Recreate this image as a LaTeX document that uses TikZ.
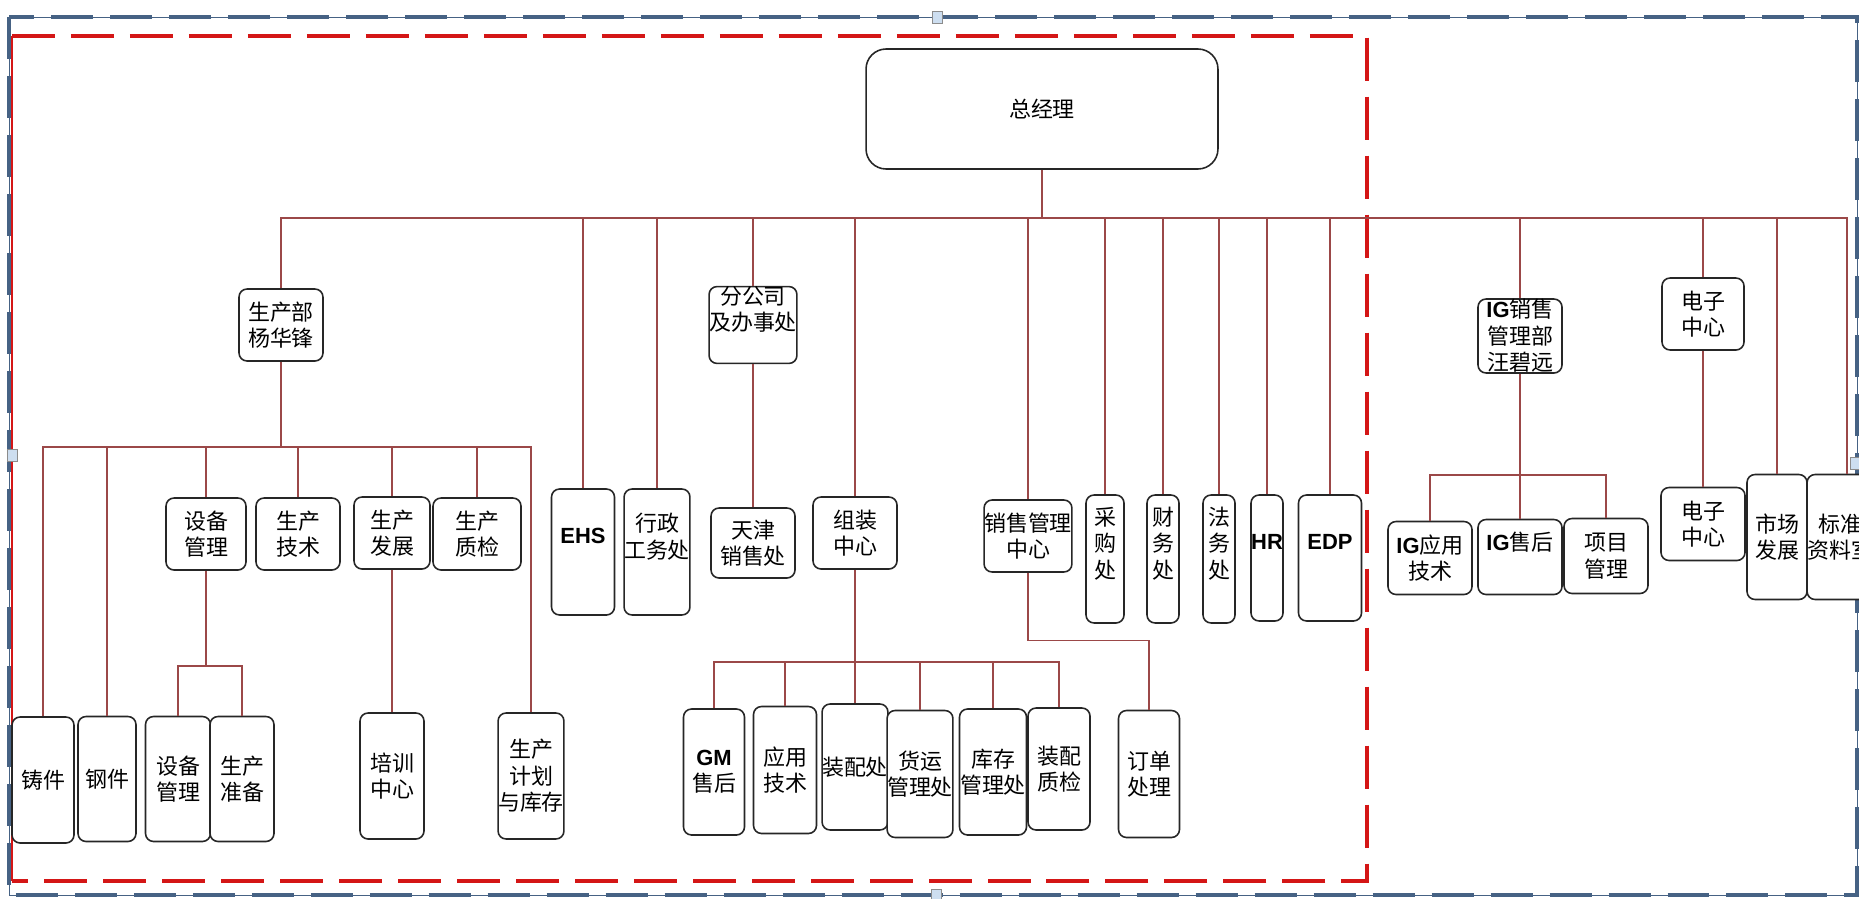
\documentclass[tikz,border=0pt]{standalone}
\usepackage{fontspec}
\setmainfont{Noto Sans CJK SC}
\newfontfamily\lbffont{Liberation Sans}
\newcommand{\lbf}[1]{{\lbffont\bfseries #1}}
\usetikzlibrary{positioning, calc}
\definecolor{linkred}{RGB}{155,72,72}
\definecolor{canvasblue}{RGB}{70,98,132}
\definecolor{markred}{RGB}{212,22,22}
\definecolor{handlefill}{RGB}{205,222,240}

\begin{document}
\begin{tikzpicture}[
                x=0.02cm, y=-0.02cm,
                font=\fontsize{12.5}{15}\selectfont,
                unit/.style={draw=black!85, line width=0.9pt, rounded corners=0.16cm, fill=white, inner sep=0pt, align=center},
                mid/.style={unit, minimum width=1.68cm, minimum height=1.44cm},
                tall/.style={unit, minimum width=1.26cm, minimum height=2.52cm},
                slim/.style={unit, minimum width=0.64cm, minimum height=2.56cm},
                hi/.style={text depth=0.65cm},
                link/.style={draw=linkred, line width=0.6pt},
                canvas/.style={canvasblue, line width=2.4pt, dash pattern=on 0.84cm off 0.34cm},
                redframe/.style={markred, line width=2.8pt, dash pattern=on 0.86cm off 0.32cm},
                handle/.style={draw=black!45, fill=handlefill, line width=0.4pt}
            ]
                \useasboundingbox (0,0) rectangle (1859,899);
                \clip (0,0) rectangle (1859,899);

                \draw[canvasblue, line width=0.5pt] (9,17) rectangle (1857,895);
                \draw[canvas] (9,17) rectangle (1857,895);
                \draw[redframe] (12,36) -- (1367,36) -- (1367,881) -- (12,881);
                \draw[markred, line width=1pt] (12,36) -- (12,881);
                \foreach \hx/\hy in {937/17, 936/895, 12/455, 1855/463}
                    \draw[handle] (\hx-5,\hy-6) rectangle (\hx+5,\hy+6);

                \node[unit, minimum width=7.04cm, minimum height=2.4cm, rounded corners=0.4cm] (gm) at (1042,109) {总经理};

                \node[mid] (scb) at (281,325) {生产部\\杨华锋};
                \node[mid, hi] (fgs) at (753,325) {分公司\\及办事处};
                \node[mid, minimum height=1.48cm] (igxs) at (1520,336) {\lbf{IG}销售\\管理部\\汪碧远};
                \node[mid, minimum width=1.64cm] (dz1) at (1703,314) {电子\\中心};

                \node[mid, minimum width=1.6cm] (sbgl1) at (206,534) {设备\\管理};
                \node[mid] (scjs) at (298,534) {生产\\技术};
                \node[mid, minimum width=1.52cm] (scfz) at (392,533) {生产\\发展};
                \node[mid, minimum width=1.76cm] (sczj) at (477,534) {生产\\质检};
                \node[tall, hi] (ehs) at (583,552) {\lbf{EHS}};
                \node[tall, hi, minimum width=1.24cm] (xz) at (657,552) {行政\\工务处};
                \node[mid, minimum height=1.4cm] (tj) at (753,543) {天津\\销售处};
                \node[mid] (zz) at (855,533) {组装\\中心};
                \node[mid, minimum width=1.72cm] (xsgl) at (1028,536) {销售管理\\中心};
                \node[slim, hi, minimum width=0.76cm] (cg) at (1105,559) {采\\购\\处};
                \node[slim, hi] (cw) at (1163,559) {财\\务\\处};
                \node[slim, hi] (fw) at (1219,559) {法\\务\\处};
                \node[slim, hi, minimum height=2.52cm] (hr) at (1267,558) {\lbf{HR}};
                \node[tall, hi] (edp) at (1330,558) {\lbf{EDP}};

                \node[mid, minimum height=1.46cm] (igyy) at (1430,558) {\lbf{IG}应用\\技术};
                \node[mid, hi, minimum height=1.5cm] (igsh) at (1520,557) {\lbf{IG}售后};
                \node[mid, minimum height=1.5cm] (xmgl) at (1606,556) {项目\\管理};
                \node[mid, minimum height=1.46cm] (dz2) at (1703,524) {电子\\中心};
                \node[tall, minimum width=1.2cm, minimum height=2.5cm] (scfz2) at (1777,537) {市场\\发展};
                \node[tall, minimum height=2.5cm] (bzzl) at (1840,537) {标准\\资料室};

                \node[tall, minimum width=1.24cm] (zj) at (43,780) {铸件};
                \node[tall, minimum width=1.16cm, minimum height=2.5cm] (gj) at (107,779) {钢件};
                \node[tall, minimum width=1.3cm, minimum height=2.5cm] (sbgl2) at (178,779) {设备\\管理};
                \node[tall, minimum width=1.28cm, minimum height=2.5cm] (sczb) at (242,779) {生产\\准备};
                \node[tall, minimum width=1.28cm] (px) at (392,776) {培训\\中心};
                \node[tall, minimum width=1.18cm] (jh) at (531,776) {生产\\计划\\与库存};

                \node[tall, minimum width=1.22cm] (gmsh) at (714,772) {\lbf{GM}\\售后};
                \node[tall, minimum height=2.54cm] (yyjs) at (785,770) {应用\\技术};
                \node[tall] (zpc) at (855,767) {装配处};
                \node[tall, minimum height=2.54cm] (hy) at (920,774) {货运\\管理处};
                \node[tall, minimum width=1.34cm] (kc) at (993,772) {库存\\管理处};
                \node[tall, minimum width=1.24cm, minimum height=2.44cm] (zpzj) at (1059,769) {装配\\质检};
                \node[tall, minimum width=1.22cm, minimum height=2.54cm] (dd) at (1149,774) {订单\\处理};

                \coordinate (bus) at (1042,218);
                \coordinate (scbus) at (281,447);
                \coordinate (sbbus) at (206,666);
                \coordinate (zzbus) at (855,662);
                \coordinate (igbus) at (1520,475);

                \draw[link] (gm.south) -- (bus);
                \foreach \dept in {scb, ehs, xz, fgs, zz, xsgl, cg, cw, fw, hr, edp, igxs, dz1, scfz2}
                    \draw[link] (bus) -| (\dept.north);
                \draw[link] (bus) -| ([xshift=0.14cm]bzzl.north);

                \draw[link] (scb.south) -- (scbus);
                \foreach \sub in {zj, gj, sbgl1, scjs, scfz, sczj, jh}
                    \draw[link] (scbus) -| (\sub.north);
                \draw[link] (sbgl1.south) -- (sbbus);
                \draw[link] (sbbus) -| (sbgl2.north);
                \draw[link] (sbbus) -| (sczb.north);
                \draw[link] (scfz.south) -- (px.north);

                \draw[link] (fgs.south) -- (tj.north);

                \draw[link] (zz.south) -- (zpc.north);
                \foreach \sub in {gmsh, yyjs, hy, kc, zpzj}
                    \draw[link] (zzbus) -| (\sub.north);
                \draw[link] (xsgl.south) -- ++(0,68) -| (dd.north);

                \draw[link] (igxs.south) -- (igsh.north);
                \draw[link] (igbus) -| (igyy.north);
                \draw[link] (igbus) -| (xmgl.north);
                \draw[link] (dz1.south) -- (dz2.north);
            \end{tikzpicture}
\end{document}
